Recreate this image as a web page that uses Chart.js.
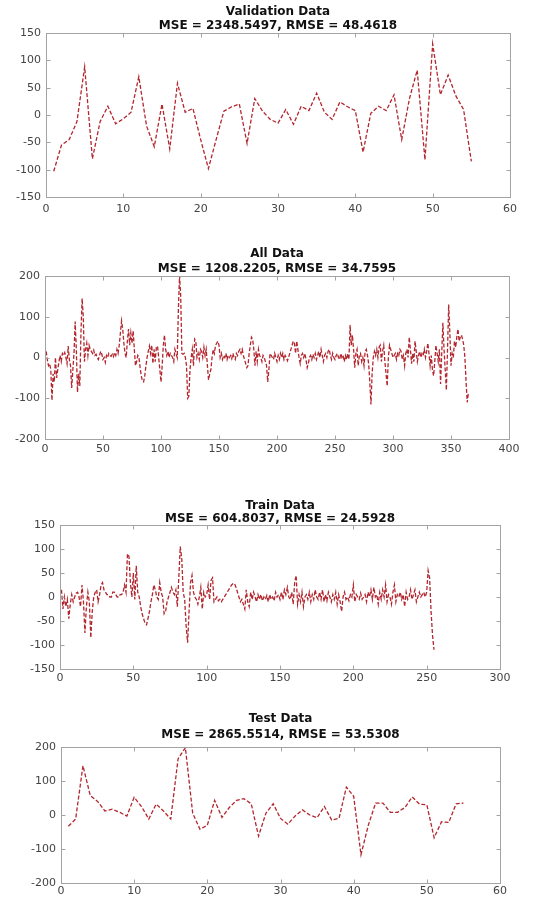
<!DOCTYPE html>
<html><head><meta charset="utf-8">
<script src="https://cdn.jsdelivr.net/npm/chart.js@4.4.1/dist/chart.umd.min.js"></script>
<style>
html,body{margin:0;padding:0;background:#fff;width:550px;height:897px;overflow:hidden;position:relative}
canvas{position:absolute}
</style></head><body>
<script>
// ---------- DATA ----------
const validationTitle = ['Validation Data', 'MSE = 2348.5497, RMSE = 48.4618'];
const validationErrors = [
 -103,-55,-45,-12,88,-80,-12,16,-16,-7,
 5,70,-20,-58,20,-62,58,5,12,-45,
 -98,-45,7,15,20,-52,30,7,-8,-15,
 10,-17,16,8,40,5,-8,24,15,8,
 -68,3,16,8,37,-45,30,82,-82,130,
 37,73,35,10,-85];
const validationXTicks = [0,60,10];
const validationYTicks = [-150,150,50];

const allTitle = ['All Data', 'MSE = 1208.2205, RMSE = 34.7595'];
const allErrors = [
 15,-5,-20,-15,-30,-105,-40,-60,0,-50,
 -30,-10,5,-10,10,5,12,0,-15,28,
 -5,-20,-75,-30,10,88,20,-85,-40,-70,
 60,145,100,-10,20,35,5,30,20,15,
 10,18,5,8,0,-5,5,15,8,-5,
 0,-12,5,0,10,5,3,8,2,12,
 5,20,10,30,60,90,70,35,10,0,
 40,70,30,60,35,65,20,-20,-10,5,
 0,-25,-45,-58,-60,-45,-20,0,15,28,
 10,30,-15,20,-10,25,28,0,-30,-60,
 -20,30,55,20,5,15,0,10,5,0,
 -10,20,10,0,120,200,150,10,8,10,
 0,-20,-100,-95,-30,0,20,-20,45,40,
 0,10,-5,20,15,0,25,5,20,-20,
 -55,-40,-30,0,20,10,30,35,40,30,
 0,10,-5,5,0,10,-5,5,0,5,
 -3,10,0,-5,10,5,15,20,10,20,
 5,-5,-15,-25,-20,10,30,50,45,20,
 -20,15,-10,20,5,0,-10,5,0,-10,
 -20,-60,-30,10,5,0,-5,10,0,-10,
 5,-5,10,0,10,-5,5,0,-8,0,
 10,20,30,40,35,10,40,20,0,-15,
 5,10,0,10,-5,-25,-15,0,5,-5,
 8,0,10,-5,5,15,0,20,5,-10,
 5,10,0,15,20,5,-5,10,0,-5,
 5,10,0,-5,10,0,5,-10,5,-5,
 10,-5,80,30,55,20,-25,10,20,-20,
 5,10,-10,0,-20,15,20,5,-15,-60,
 -115,-40,0,15,5,20,0,25,30,-10,
 15,30,-10,-40,-70,0,30,20,10,0,
 5,10,-5,10,5,20,15,-5,5,-20,
 10,20,0,50,20,-15,10,-10,40,15,
 -10,5,15,0,10,5,20,0,15,35,
 10,-20,5,-30,-45,-10,30,10,-10,20,
 -65,10,85,20,-30,-80,20,130,60,-20,
 10,0,40,25,50,70,40,50,55,45,
 30,0,-60,-110,-85];
const allXTicks = [0,400,50];
const allYTicks = [-200,200,100];

const trainTitle = ['Train Data', 'MSE = 604.8037, RMSE = 24.5928'];
const trainErrors = [
 15,-25,0,-20,-5,-45,-15,5,-10,0,
 8,10,0,-20,25,-10,-75,-20,10,-10,
 -85,-30,0,10,15,-10,5,25,30,15,
 10,5,5,0,0,10,10,5,0,0,
 5,5,10,25,10,90,85,30,0,50,
 -5,65,10,0,-20,-35,-45,-55,-58,-45,
 -30,-10,5,25,15,0,-5,30,10,0,
 -35,-30,-10,0,10,20,10,5,15,-20,
 40,105,80,10,-5,-60,-95,-30,30,45,
 10,0,-5,-15,0,20,-25,10,0,5,
 25,-5,35,40,-10,-5,0,-8,-5,-10,
 -5,0,5,10,15,20,25,28,28,20,
 10,0,-10,-5,-15,-25,15,-10,-20,10,
 -5,10,0,-10,5,-5,5,-8,0,-5,
 3,-10,5,-5,0,-8,10,0,5,-5,
 10,-5,15,5,20,0,-5,10,-15,30,
 45,-15,5,-10,10,-20,0,5,-5,10,
 -10,5,-5,15,0,-5,10,-5,15,-10,
 5,-8,10,0,-10,5,-5,10,-15,5,
 -10,-30,0,10,-5,0,-8,5,0,25,
 -10,5,0,-5,8,-5,0,5,-10,10,
 0,15,-5,20,0,5,-15,10,-5,15,
 0,25,-10,5,0,-15,10,25,-10,5,
 0,10,-5,5,-20,10,-5,0,15,-5,
 5,15,-10,0,10,0,5,10,0,10,
 55,40,-30,-80,-110];
const trainXTicks = [0,300,50];
const trainYTicks = [-150,150,50];

const testTitle = ['Test Data', 'MSE = 2865.5514, RMSE = 53.5308'];
const testErrors = [
 -33,-12,145,57,40,12,17,8,-3,52,
 25,-12,32,12,-12,165,198,5,-42,-30,
 43,-7,22,43,48,33,-62,5,33,-10,
 -27,-3,15,0,-8,25,-15,-10,82,55,
 -117,-30,35,35,8,8,22,53,32,30,
 -67,-20,-22,33,35];
const testXTicks = [0,60,10];
const testYTicks = [-200,200,100];

// ---------- DRAWING ----------
const LINE_COLOR = '#b3262e';
const TICK_FONT = {family: 'DejaVu Sans', size: 11};

const boxPlugin = {
  id: 'boxTicks',
  afterDraw(chart) {
    const {ctx, chartArea: a} = chart;
    const xs = chart.scales.x, ys = chart.scales.y;
    ctx.save();
    ctx.strokeStyle = '#a3a3a3';
    ctx.lineWidth = 1;
    const L = Math.round(a.left) + 0.5, R = Math.round(a.right) + 0.5;
    const T = Math.round(a.top) + 0.5, B = Math.round(a.bottom) + 0.5;
    ctx.strokeRect(L, T, R - L, B - T);
    ctx.beginPath();
    const len = 4;
    xs.ticks.forEach(t => {
      const p = Math.round(xs.getPixelForValue(t.value)) + 0.5;
      ctx.moveTo(p, B); ctx.lineTo(p, B - len);
      ctx.moveTo(p, T); ctx.lineTo(p, T + len);
    });
    ys.ticks.forEach(t => {
      const p = Math.round(ys.getPixelForValue(t.value)) + 0.5;
      ctx.moveTo(L, p); ctx.lineTo(L + len, p);
      ctx.moveTo(R, p); ctx.lineTo(R - len, p);
    });
    ctx.stroke();
    ctx.restore();
  }
};

function makeChart(title, values, xt, yt, g) {
  const cv = document.createElement('canvas');
  cv.width = g.cw; cv.height = g.ch;
  cv.style.left = g.cl + 'px'; cv.style.top = g.ct + 'px';
  cv.style.width = g.cw + 'px'; cv.style.height = g.ch + 'px';
  document.body.appendChild(cv);
  new Chart(cv, {
    type: 'line',
    data: {datasets: [{
      data: values.map((v, i) => ({x: i + 1, y: v})),
      borderColor: LINE_COLOR, borderWidth: 1.3, borderDash: [4, 2],
      pointRadius: 0, fill: false, tension: 0
    }]},
    options: {
      responsive: false, animation: false, events: [],
      layout: {padding: {left: 0, right: g.padR, top: 0, bottom: 0}},
      plugins: {
        legend: {display: false}, tooltip: {enabled: false},
        title: {display: true, fullSize: false, text: title, color: '#111',
          font: {family: 'DejaVu Sans', size: 12, weight: 'bold', lineHeight: g.lh + 'px'},
          padding: {top: 0, bottom: g.pb}}
      },
      scales: {
        x: {type: 'linear', min: xt[0], max: xt[1],
          ticks: {stepSize: xt[2], padding: g.xp, font: TICK_FONT, color: '#444', maxRotation: 0, autoSkip: false},
          grid: {display: false, drawTicks: false}, border: {display: false},
          afterFit(s) { s.height = g.xh; }},
        y: {type: 'linear', min: yt[0], max: yt[1],
          ticks: {stepSize: yt[2], padding: 5, font: TICK_FONT, color: '#444'},
          grid: {display: false, drawTicks: false}, border: {display: false},
          afterFit(s) { s.width = g.yw; }}
      }
    },
    plugins: [boxPlugin]
  });
}

makeChart(validationTitle, validationErrors, validationXTicks, validationYTicks,
  {cl: 6, cw: 544, ct: 5, ch: 210, lh: 14, pb: 0, yw: 40, padR: 40, xh: 18, xp: 6});
makeChart(allTitle, allErrors, allXTicks, allYTicks,
  {cl: 4, cw: 546, ct: 246, ch: 211, lh: 15, pb: 0, yw: 41, padR: 41, xh: 18, xp: 4});
makeChart(trainTitle, trainErrors, trainXTicks, trainYTicks,
  {cl: 10, cw: 540, ct: 499, ch: 186, lh: 13, pb: 0, yw: 50, padR: 50, xh: 16, xp: 3});
makeChart(testTitle, testErrors, testXTicks, testYTicks,
  {cl: 11, cw: 539, ct: 711, ch: 186, lh: 16, pb: 4, yw: 50, padR: 50, xh: 14, xp: 2});
</script>
</body></html>
